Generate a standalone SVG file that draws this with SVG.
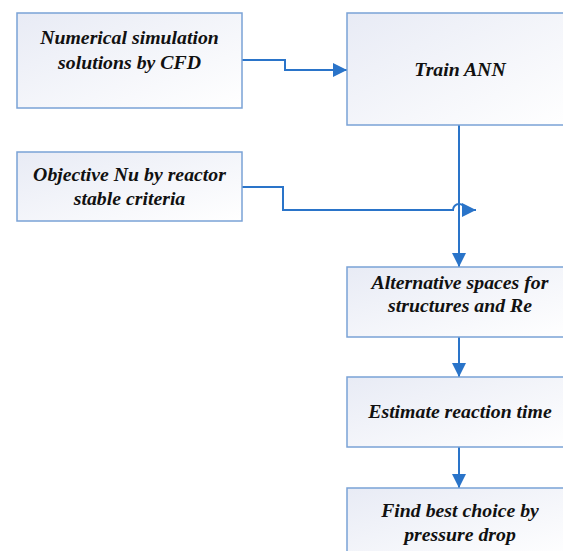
<svg xmlns="http://www.w3.org/2000/svg" width="563" height="551" viewBox="0 0 563 551">
<defs>
<linearGradient id="g" x1="0" y1="0" x2="1" y2="1">
<stop offset="0" stop-color="#e8ebf5"/>
<stop offset="1" stop-color="#ffffff"/>
</linearGradient>
<marker id="ah" viewBox="0 0 10 10" refX="10" refY="5" markerWidth="14" markerHeight="14" markerUnits="userSpaceOnUse" orient="auto">
<path d="M0,0 L10,5 L0,10 Z" fill="#2a74c9"/>
</marker>
</defs>
<style>
.box{fill:url(#g);stroke:#7aa2d6;stroke-width:1.5}
.t{font-family:"Liberation Serif","Times New Roman",serif;font-weight:700;font-style:italic;font-size:19.8px;fill:#111;text-anchor:middle}
.c{fill:none;stroke:#2a74c9;stroke-width:2}
</style>
<g id="connectors">
<path class="c" d="M242,60 H285 V70 H347" marker-end="url(#ah)"/>
<path class="c" d="M242,187 H283 V210 H453 A6,6 0 0 1 465,210 H476" marker-end="url(#ah)"/>
<path class="c" d="M459,125 V267" marker-end="url(#ah)"/>
<path class="c" d="M459,337 V377" marker-end="url(#ah)"/>
<path class="c" d="M459,447 V488" marker-end="url(#ah)"/>
</g>
<g id="n1"><rect class="box" x="17" y="13" width="225" height="95"/>
<text class="t" x="129.5" y="44">Numerical simulation</text>
<text class="t" x="129.5" y="69">solutions by CFD</text></g>
<g id="n2"><rect class="box" x="347" y="13" width="224" height="112"/>
<text class="t" x="460" y="76">Train ANN</text></g>
<g id="n3"><rect class="box" x="17" y="152" width="225" height="69"/>
<text class="t" x="129.5" y="181">Objective Nu by reactor</text>
<text class="t" x="129.5" y="205">stable criteria</text></g>
<g id="n4"><rect class="box" x="347" y="267" width="224" height="70"/>
<text class="t" x="460" y="289">Alternative spaces for</text>
<text class="t" x="460" y="312">structures and Re</text></g>
<g id="n5"><rect class="box" x="347" y="377" width="224" height="70"/>
<text class="t" x="460" y="418">Estimate reaction time</text></g>
<g id="n6"><rect class="box" x="347" y="488" width="224" height="70"/>
<text class="t" x="460" y="517">Find best choice by</text>
<text class="t" x="460" y="541">pressure drop</text></g>
</svg>
